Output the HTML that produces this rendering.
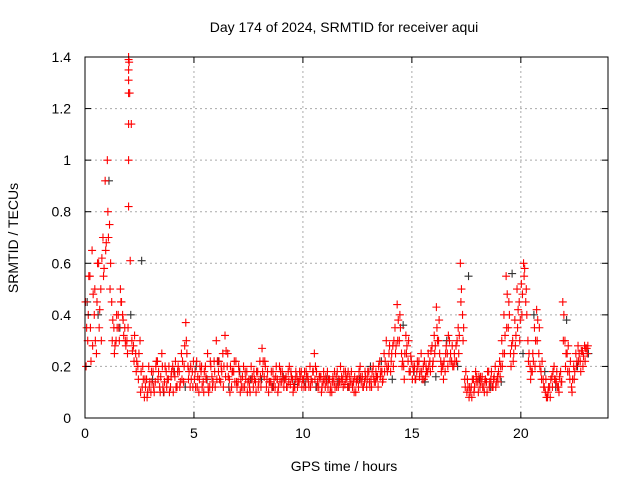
<!DOCTYPE html>
<html><head><meta charset="utf-8"><style>
body{margin:0;background:#fff;font-family:"Liberation Sans",sans-serif;}
svg text{font-family:"Liberation Sans",sans-serif;font-size:14px;fill:#000;}
</style></head><body>
<svg id="chart" width="640" height="480" xmlns="http://www.w3.org/2000/svg">
<text x="344" y="32" text-anchor="middle">Day 174 of 2024, SRMTID for receiver aqui</text>
<text x="344" y="471" text-anchor="middle">GPS time / hours</text>
<text transform="translate(18,238) rotate(-90)" text-anchor="middle">SRMTID / TECUs</text>
<g id="grid"></g>
<g id="marks"></g>
<rect x="85" y="57" width="523" height="361" fill="none" stroke="#000" stroke-width="1"/>
<g id="ticks"></g>
</svg>
<script>
const xTicks=[0,5,10,15,20];
const yTicks=[0,0.2,0.4,0.6,0.8,1,1.2,1.4];
const yTickLabels=["0","0.2","0.4","0.6","0.8","1","1.2","1.4"];
const redTimeStep=0.1;
const redA=[.45,.30,.55,.65,.40,.25,.60,.50,.70,.92,1.0,.75,.45,.35,.30,.40,.50,.40,.35,.30,1.38,1.14,.28,.25,.20,.30,.12,.08,.15,.20,.10,.18,.14,.22,.12,.25,.10,.18,.15,.12,.20,.16,.12,.18,.25,.14,.37,.20,.12,.18,.15,.22,.10,.18,.14,.20,.25,.12,.16,.22,.30,.18,.14,.25,.32,.20,.15,.12,.18,.22,.14,.10,.16,.12,.18,.15,.20,.12,.14,.18,.22,.27,.16,.12,.10,.14,.18,.12,.15,.20,.14,.12,.16,.18,.13,.15,.12,.16,.14,.18,.15,.12,.16,.20,.14,.25,.18,.12,.16,.14,.12,.18,.15,.10,.14,.16,.12,.20,.15,.13,.16,.12,.18,.14,.10,.15,.20,.16,.14,.12,.18,.15,.20,.14,.16,.22,.18,.25,.30,.20,.18,.28,.35,.44,.30,.25,.20,.32,.22,.18,.15,.20,.18,.22,.25,.20,.16,.18,.22,.28,.32,.43,.30,.22,.20,.18,.25,.30,.22,.20,.28,.35,.60,.40,.15,.10,.08,.12,.15,.18,.14,.12,.16,.10,.14,.18,.15,.12,.20,.16,.22,.30,.40,.55,.35,.25,.30,.38,.50,.45,.52,.60,.45,.30,.20,.18,.35,.42,.25,.18,.15,.10,.08,.12,.16,.20,.14,.12,.18,.45,.30,.25,.18,.12,.20,.25,.28,.22,.26,.28,.27];
const redB=[.20,.40,.35,.28,.50,.45,.35,.30,.55,.65,.80,.50,.30,.25,.40,.35,.45,.38,.30,.25,1.26,.30,.22,.18,.15,.10,.20,.15,.08,.12,.18,.12,.20,.15,.10,.20,.14,.12,.20,.16,.10,.22,.18,.12,.15,.20,.30,.15,.20,.12,.18,.12,.15,.20,.10,.16,.12,.22,.12,.18,.15,.22,.20,.12,.16,.25,.10,.18,.22,.14,.20,.15,.12,.18,.10,.12,.15,.18,.10,.12,.16,.18,.22,.15,.14,.18,.12,.16,.10,.14,.18,.15,.12,.14,.18,.10,.15,.12,.18,.12,.12,.18,.14,.12,.18,.15,.12,.16,.10,.18,.16,.12,.10,.14,.18,.12,.15,.14,.12,.18,.12,.16,.14,.10,.14,.12,.16,.12,.18,.15,.14,.12,.16,.18,.12,.16,.14,.18,.20,.25,.22,.20,.25,.30,.40,.20,.15,.25,.30,.24,.20,.15,.22,.16,.18,.15,.20,.25,.18,.20,.25,.35,.38,.18,.15,.25,.20,.22,.28,.25,.22,.25,.45,.30,.12,.15,.12,.08,.10,.14,.10,.16,.12,.14,.10,.12,.18,.15,.12,.14,.16,.20,.25,.35,.45,.20,.22,.28,.35,.30,.40,.55,.50,.22,.15,.25,.20,.30,.35,.15,.12,.15,.10,.08,.12,.15,.18,.10,.14,.30,.20,.18,.15,.10,.15,.20,.22,.18,.20,.22,.25];
const redC=[.35,.55,.22,.48,.30,.60,.42,.62,.58,.68,.70,.60,.38,.28,.35,.30,.45,.32,.28,.35,.61,.26,.32,.22,.25,.18,.15,.12,.10,.14,.14,.10,.22,.18,.16,.12,.20,.15,.10,.18,.18,.12,.20,.14,.22,.28,.25,.18,.15,.22,.12,.16,.20,.12,.18,.15,.10,.20,.14,.12,.22,.15,.18,.20,.26,.16,.20,.18,.14,.12,.18,.12,.20,.15,.14,.10,.16,.15,.18,.14,.12,.22,.20,.18,.14,.12,.15,.20,.12,.18,.16,.15,.12,.20,.16,.12,.18,.14,.16,.15,.18,.16,.12,.15,.18,.20,.14,.16,.12,.15,.14,.15,.12,.16,.12,.18,.14,.16,.18,.15,.18,.14,.12,.16,.15,.18,.14,.12,.16,.18,.12,.18,.14,.16,.20,.18,.15,.22,.18,.28,.25,.30,.28,.38,.35,.22,.25,.28,.18,.22,.18,.15,.20,.18,.15,.22,.18,.20,.26,.22,.28,.30,.25,.20,.22,.28,.32,.25,.20,.22,.30,.32,.50,.35,.18,.12,.10,.15,.12,.16,.16,.14,.12,.15,.18,.14,.12,.16,.14,.18,.20,.25,.32,.48,.40,.28,.25,.32,.42,.38,.48,.58,.40,.25,.18,.22,.30,.38,.20,.22,.12,.08,.12,.15,.18,.15,.12,.16,.14,.40,.25,.28,.22,.15,.18,.22,.25,.26,.24,.27,.28];
const spikeTime=2.0;
const spikeValues=[1.40,1.39,1.35,1.31,1.26,1.14,1.0,0.82];
const blackTimeStep=0.5;
const blackVals=[.45,.40,.92,.35,.40,.61,.15,.10,.18,.12,.20,.15,.22,.12,.18,.15,.15,.12,.16,.13,.14,.12,.15,.14,.12,.15,.20,.22,.15,.36,.18,.14,.16,.30,.20,.55,.15,.12,.14,.56,.25,.40,.18,.12,.38,.20,.25];

const NS="http://www.w3.org/2000/svg";
const X0=85,X1=608,Y0=418,Y1=57;
const xs=v=>X0+v/24*(X1-X0);
const ys=v=>Y0-v/1.4*(Y0-Y1);
const grid=document.getElementById('grid'),ticks=document.getElementById('ticks'),marks=document.getElementById('marks');
function mk(tag,attrs,parent){const e=document.createElementNS(NS,tag);for(const k in attrs)e.setAttribute(k,attrs[k]);parent.appendChild(e);return e;}
xTicks.forEach(t=>{
  const x=xs(t);
  if(t>0){const g=mk('line',{x1:x,x2:x,y1:Y0,y2:Y1,stroke:'#aaa','stroke-dasharray':'2,3'},grid);
  
  }
  mk('line',{x1:x,x2:x,y1:Y0,y2:Y0-6,stroke:'#000'},ticks);
  mk('line',{x1:x,x2:x,y1:Y1,y2:Y1+6,stroke:'#000'},ticks);
  const l=mk('text',{x:x,y:Y0+20,'text-anchor':'middle'},ticks);l.textContent=t;
  
  
});
yTicks.forEach((t,i)=>{
  const y=ys(t);
  if(t>0&&t<1.4){const g=mk('line',{x1:X0,x2:X1,y1:y,y2:y,stroke:'#aaa','stroke-dasharray':'2,3'},grid);
  
  }
  mk('line',{x1:X0,x2:X0+6,y1:y,y2:y,stroke:'#000'},ticks);
  mk('line',{x1:X1,x2:X1-6,y1:y,y2:y,stroke:'#000'},ticks);
  const l=mk('text',{x:X0-14,y:y+5,'text-anchor':'end'},ticks);l.textContent=yTickLabels[i];
  
  
});
function plus(t,v,color){
  const x=xs(t),y=ys(v);
  const p=mk('path',{d:`M${x-4},${y}h8M${x},${y-4}v8`,stroke:color,'stroke-width':1.1,fill:'none'},marks);
  
  
}
blackVals.forEach((v,i)=>plus(i*blackTimeStep+0.1,v,'#333'));
redC.forEach((v,i)=>plus(i*redTimeStep+0.075,v,'#f00'));
redB.forEach((v,i)=>plus(i*redTimeStep+0.05,v,'#f00'));
redA.forEach((v,i)=>plus(i*redTimeStep+0.025,v,'#f00'));
spikeValues.forEach(v=>plus(spikeTime,v,'#f00'));
</script>
</body></html>
